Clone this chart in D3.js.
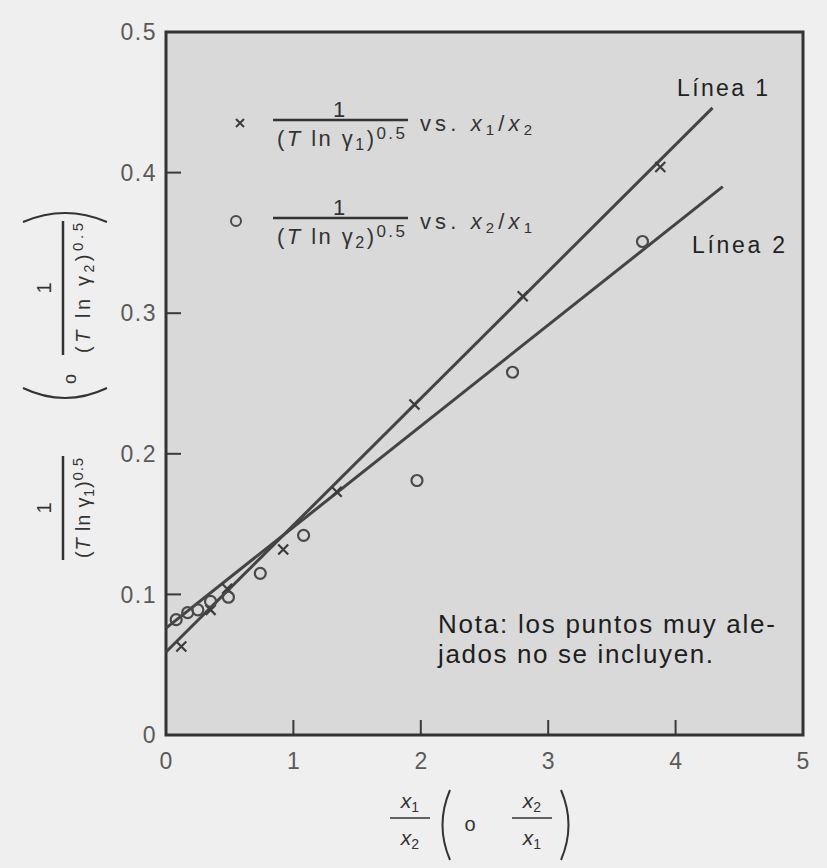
<!DOCTYPE html>
<html>
<head>
<meta charset="utf-8">
<script src="https://cdn.jsdelivr.net/npm/d3@7"></script>
<style>
  body { margin: 0; background: #efefef; }
  svg { display: block; font-family: "Liberation Sans", Arial, sans-serif; }
</style>
</head>
<body>
<div id="chart"></div>
<script>
// values
const xTicks = [0, 1, 2, 3, 4, 5];
const yTicks = [0, 0.1, 0.2, 0.3, 0.4, 0.5];
const yTickLabels = ["0", "0.1", "0.2", "0.3", "0.4", "0.5"];

// x: 1/(T ln g1)^0.5 vs x1/x2
const crossX = [0.12, 0.35, 0.48, 0.92, 1.34, 1.95, 2.80, 3.88];
const crossY = [0.063, 0.089, 0.104, 0.132, 0.173, 0.235, 0.312, 0.404];
// o: 1/(T ln g2)^0.5 vs x2/x1
const circleX = [0.08, 0.17, 0.25, 0.35, 0.49, 0.74, 1.08, 1.97, 2.72, 3.74];
const circleY = [0.082, 0.087, 0.089, 0.095, 0.098, 0.115, 0.142, 0.181, 0.258, 0.351];

// fitted lines (start, end)
const line1X = [0, 4.29], line1Y = [0.059, 0.446];
const line2X = [0, 4.37], line2Y = [0.076, 0.390];

const W = 827, H = 868;
const svg = d3.select("#chart").append("svg")
    .attr("width", W)
    .attr("height", H);

const x = d3.scaleLinear().domain([0, 5]).range([166, 803]);
const y = d3.scaleLinear().domain([0, 0.5]).range([735, 32]);

const ink = "#3a3a3a";

// plot background (scanned halftone look, flat here)
svg.append("rect")
    .attr("x", x(0)).attr("y", y(0.5))
    .attr("width", x(5) - x(0)).attr("height", y(0) - y(0.5))
    .attr("fill", "#d9d9d9");

// inward ticks
const tickLen = 15;
svg.append("g").selectAll("line")
    .data(xTicks.slice(1, -1))
    .enter().append("line")
    .attr("x1", d => x(d)).attr("x2", d => x(d))
    .attr("y1", y(0)).attr("y2", y(0) - tickLen)
    .attr("stroke", ink).attr("stroke-width", 2);

svg.append("g").selectAll("line")
    .data(yTicks.slice(1, -1))
    .enter().append("line")
    .attr("x1", x(0)).attr("x2", x(0) + tickLen)
    .attr("y1", d => y(d)).attr("y2", d => y(d))
    .attr("stroke", ink).attr("stroke-width", 2);

// frame
svg.append("rect")
    .attr("x", x(0)).attr("y", y(0.5))
    .attr("width", x(5) - x(0)).attr("height", y(0) - y(0.5))
    .attr("fill", "none")
    .attr("stroke", "#333").attr("stroke-width", 3);

// tick labels
svg.append("g").selectAll("text")
    .data(xTicks)
    .enter().append("text")
    .attr("x", d => x(d)).attr("y", y(0) + 34)
    .attr("text-anchor", "middle")
    .attr("font-size", 23).attr("fill", "#5a5a5a")
    .text(d => d);

svg.append("g").selectAll("text")
    .data(yTicks)
    .enter().append("text")
    .attr("x", x(0) - 9).attr("y", d => y(d))
    .attr("dy", "0.36em")
    .attr("text-anchor", "end")
    .attr("font-size", 23).attr("letter-spacing", 1.5).attr("fill", "#5a5a5a")
    .text((d, i) => yTickLabels[i]);

// fitted lines
const line = d3.line().x(d => x(d[0])).y(d => y(d[1]));
[[line1X, line1Y], [line2X, line2Y]].forEach(([lx, ly]) => {
    svg.append("path")
        .datum(lx.map((v, i) => [v, ly[i]]))
        .attr("d", line)
        .attr("fill", "none")
        .attr("stroke", "#444").attr("stroke-width", 3);
});

// markers
const crossPath = s => `M${-s},${-s}L${s},${s}M${-s},${s}L${s},${-s}`;
svg.append("g").selectAll("path")
    .data(crossX.map((v, i) => [v, crossY[i]]))
    .enter().append("path")
    .attr("transform", d => `translate(${x(d[0])},${y(d[1])})`)
    .attr("d", crossPath(5))
    .attr("stroke", "#3c3c3c").attr("stroke-width", 2.2);

svg.append("g").selectAll("circle")
    .data(circleX.map((v, i) => [v, circleY[i]]))
    .enter().append("circle")
    .attr("cx", d => x(d[0])).attr("cy", d => y(d[1]))
    .attr("r", 5.5)
    .attr("fill", "none")
    .attr("stroke", "#4a4a4a").attr("stroke-width", 2.2);

// line names
svg.append("text").attr("x", 677).attr("y", 96)
    .attr("font-size", 23).attr("textLength", 91).attr("lengthAdjust", "spacing")
    .attr("fill", "#222")
    .text("Línea 1");
svg.append("text").attr("x", 692).attr("y", 253)
    .attr("font-size", 23).attr("textLength", 93).attr("lengthAdjust", "spacing")
    .attr("fill", "#222")
    .text("Línea 2");

// legend
function fractionDen(sel, sub, size) {
    sel.append("tspan").text("(");
    sel.append("tspan").attr("font-style", "italic").text("T");
    sel.append("tspan").text(" ln γ");
    sel.append("tspan").attr("font-size", size - 6).attr("dy", 4).text(sub);
    sel.append("tspan").attr("dy", -4).text(")");
    sel.append("tspan").attr("font-size", size - 5).attr("dy", -7).text("0.5");
}
function vsLabel(sel, a, b) {
    sel.append("tspan").text("vs. ");
    sel.append("tspan").attr("font-style", "italic").text("x");
    sel.append("tspan").attr("font-size", 15).attr("dy", 4).text(a);
    sel.append("tspan").attr("dy", -4).text("/");
    sel.append("tspan").attr("font-style", "italic").text("x");
    sel.append("tspan").attr("font-size", 15).attr("dy", 4).text(b);
}
const legendRows = [
    {mark: "x", y: 120, sub: "1", a: "1", b: "2"},
    {mark: "o", y: 218, sub: "2", a: "2", b: "1"}
];
legendRows.forEach(r => {
    if (r.mark === "x") {
        svg.append("path").attr("transform", `translate(240,${r.y + 3})`)
            .attr("d", crossPath(4)).attr("stroke", "#3c3c3c").attr("stroke-width", 2);
    } else {
        svg.append("circle").attr("cx", 236).attr("cy", r.y + 3).attr("r", 5)
            .attr("fill", "none").attr("stroke", "#4a4a4a").attr("stroke-width", 2);
    }
    svg.append("text").attr("x", 339).attr("y", r.y - 3)
        .attr("text-anchor", "middle").attr("font-size", 22).attr("fill", "#333").text("1");
    svg.append("line").attr("x1", 273).attr("x2", 408).attr("y1", r.y).attr("y2", r.y)
        .attr("stroke", "#333").attr("stroke-width", 2.5);
    svg.append("text").attr("x", 277).attr("y", r.y + 26)
        .attr("font-size", 22).attr("textLength", 128).attr("lengthAdjust", "spacing")
        .attr("fill", "#333").call(fractionDen, r.sub, 22);
    svg.append("text").attr("x", 420).attr("y", r.y + 11)
        .attr("font-size", 22).attr("textLength", 112).attr("lengthAdjust", "spacing")
        .attr("fill", "#333")
        .call(vsLabel, r.a, r.b);
});

// note
svg.append("text").attr("x", 438).attr("y", 633)
    .attr("font-size", 26).attr("textLength", 337).attr("lengthAdjust", "spacing")
    .attr("fill", "#1e1e1e")
    .text("Nota: los puntos muy ale-");
svg.append("text").attr("x", 438).attr("y", 663)
    .attr("font-size", 26).attr("textLength", 275).attr("lengthAdjust", "spacing")
    .attr("fill", "#1e1e1e")
    .text("jados no se incluyen.");

// y-axis label (rotated, reads bottom to top)
const yl = svg.append("g").attr("transform", "rotate(-90)");
function yFraction(center, len, sub) {
    yl.append("text").attr("x", -center).attr("y", 51)
        .attr("text-anchor", "middle").attr("font-size", 20).attr("fill", "#333").text("1");
    yl.append("line").attr("x1", -center - len / 2).attr("x2", -center + len / 2)
        .attr("y1", 63).attr("y2", 63).attr("stroke", "#333").attr("stroke-width", 2.5);
    yl.append("text").attr("x", -center - len / 2 + 2).attr("y", 90)
        .attr("font-size", 20).attr("textLength", len - 4).attr("lengthAdjust", "spacing")
        .attr("fill", "#333").call(fractionDen, sub, 20);
}
yFraction(508, 104, "1");
yFraction(288, 134, "2");
yl.append("path").attr("d", "M-388,23Q-408,65-388,107")
    .attr("fill", "none").attr("stroke", "#333").attr("stroke-width", 2);
yl.append("text").attr("x", -379).attr("y", 76)
    .attr("text-anchor", "middle").attr("font-size", 18).attr("fill", "#333").text("o");
yl.append("path").attr("d", "M-222,23Q-204,65-222,107")
    .attr("fill", "none").attr("stroke", "#333").attr("stroke-width", 2);

// x-axis label
function xFrac(cx, top, bot) {
    const t = svg.append("text").attr("x", cx).attr("y", 808)
        .attr("text-anchor", "middle").attr("font-size", 21).attr("fill", "#333");
    t.append("tspan").attr("font-style", "italic").text("x");
    t.append("tspan").attr("font-size", 14).attr("dy", 4).text(top);
    svg.append("line").attr("x1", cx - 20).attr("x2", cx + 20).attr("y1", 818).attr("y2", 818)
        .attr("stroke", "#333").attr("stroke-width", 1.5);
    const b = svg.append("text").attr("x", cx).attr("y", 845)
        .attr("text-anchor", "middle").attr("font-size", 21).attr("fill", "#333");
    b.append("tspan").attr("font-style", "italic").text("x");
    b.append("tspan").attr("font-size", 14).attr("dy", 4).text(bot);
}
xFrac(410, "1", "2");
xFrac(532, "2", "1");
svg.append("path").attr("d", "M450,790Q435,825,450,860")
    .attr("fill", "none").attr("stroke", "#333").attr("stroke-width", 2);
svg.append("text").attr("x", 470).attr("y", 831)
    .attr("text-anchor", "middle").attr("font-size", 20).attr("fill", "#333").text("o");
svg.append("path").attr("d", "M561,790Q576,825,561,860")
    .attr("fill", "none").attr("stroke", "#333").attr("stroke-width", 2);
</script>
</body>
</html>
